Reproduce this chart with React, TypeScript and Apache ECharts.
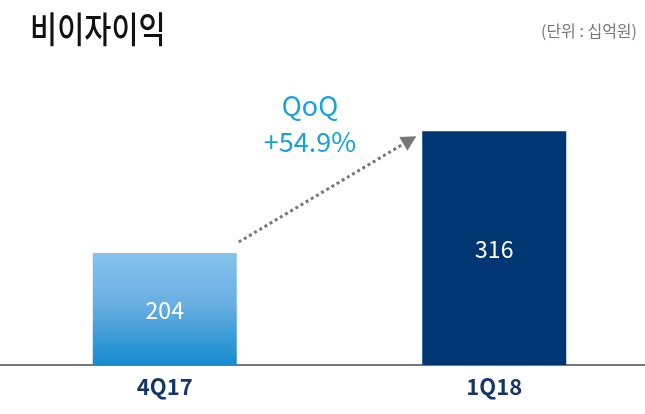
import React, { useEffect, useRef } from "react";
import * as echarts from "echarts";

const categories = ["4Q17", "1Q18"];
const values = [204, 316];
const titleText = "비이자이익";
const unitText = "(단위 : 십억원)";
const changeLabel = ["QoQ", "+54.9%"];

const FONT = "'Noto Sans CJK KR', 'Noto Sans', sans-serif";

export default function App() {
  const ref = useRef<HTMLDivElement>(null);
  useEffect(() => {
    if (!ref.current) return;
    const chart = echarts.init(ref.current, null, { renderer: "svg" });
    chart.setOption({
      animation: false,
      textStyle: { fontFamily: FONT },
      grid: { left: 0, width: 659, top: 40, bottom: 49, outerBoundsMode: "none", containLabel: false },
      xAxis: {
        type: "category",
        data: categories,
        axisLine: { lineStyle: { color: "#777777", width: 2 } },
        axisTick: { show: false },
        axisLabel: {
          color: "#14366b",
          fontSize: 22,
          fontWeight: "bold",
          fontFamily: FONT,
          margin: 9,
        },
      },
      yAxis: { type: "value", min: 101, max: 400, show: false, splitLine: { show: false } },
      series: [
        {
          type: "bar",
          barWidth: 144,
          data: [
            {
              value: values[0],
              itemStyle: {
                color: new echarts.graphic.LinearGradient(0, 0, 0, 1, [
                  { offset: 0, color: "#86c2ed" },
                  { offset: 0.45, color: "#6aafe2" },
                  { offset: 1, color: "#168bcf" },
                ]),
              },
            },
            { value: values[1], itemStyle: { color: "#003671" } },
          ],
          label: {
            show: true,
            position: "inside",
            color: "#ffffff",
            fontSize: 23,
            fontFamily: FONT,
          },
        },
      ],
    });

    const p1 = chart.convertToPixel({ seriesIndex: 0 }, [0, values[0]]) as number[];
    const p2 = chart.convertToPixel({ seriesIndex: 0 }, [1, values[1]]) as number[];
    const half = 72;
    const sx = p1[0] + half + 2;
    const sy = p1[1] - 11;
    const tx = p2[0] - half - 6;
    const ty = p2[1] + 5;
    const ang = Math.atan2(ty - sy, tx - sx);
    const L = 15;
    const W = 8;
    const bx = tx - L * Math.cos(ang);
    const by = ty - L * Math.sin(ang);
    const nx = -Math.sin(ang);
    const ny = Math.cos(ang);

    chart.setOption({
      graphic: [
        {
          type: "text",
          x: 30,
          y: 9,
          scaleX: 0.82,
          style: { text: titleText, fontSize: 36, fontFamily: FONT, fill: "#111111", fontWeight: 500 },
        },
        {
          type: "text",
          right: 8,
          top: 22,
          style: { text: unitText, fontSize: 16, fontFamily: FONT, fill: "#777777" },
        },
        {
          type: "line",
          shape: { x1: sx, y1: sy, x2: bx, y2: by },
          style: { stroke: "#777777", lineWidth: 3, lineDash: [3, 3] },
        },
        {
          type: "polygon",
          shape: {
            points: [
              [tx, ty],
              [bx + nx * W, by + ny * W],
              [bx - nx * W, by - ny * W],
            ],
          },
          style: { fill: "#777777" },
        },
        {
          type: "text",
          x: 310,
          y: 86,
          style: {
            text: changeLabel.join("\n"),
            fontSize: 27,
            lineHeight: 36,
            fontFamily: FONT,
            fill: "#18a2dc",
            align: "center",
          },
        },
      ],
    });

    return () => chart.dispose();
  }, []);
  return (
    <div
      ref={ref}
      style={{ position: "fixed", left: 0, top: 0, width: 645, height: 414 }}
    />
  );
}
